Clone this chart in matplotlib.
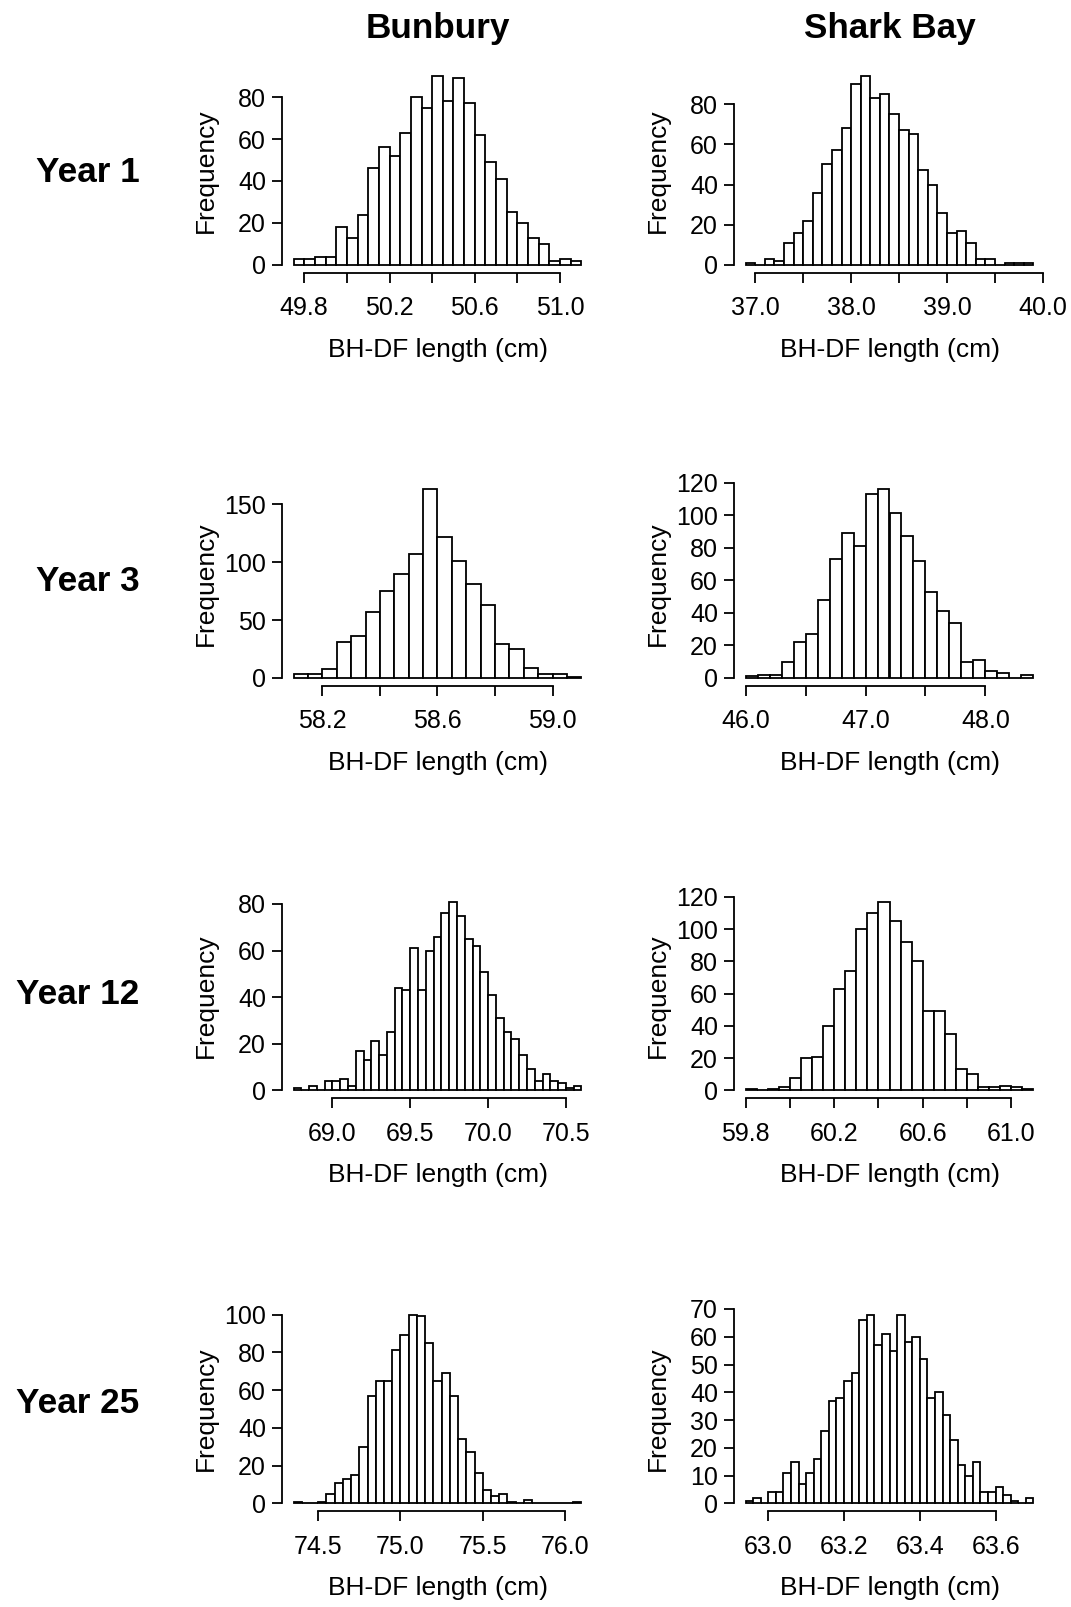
import numpy as np
import matplotlib
matplotlib.use("Agg")
import matplotlib.pyplot as plt

plt.rcParams["font.family"] = ["Liberation Sans", "DejaVu Sans"]

sites = ["Bunbury", "Shark Bay"]
years = ["Year 1", "Year 3", "Year 12", "Year 25"]

# histogram bins (first edge, bin width) and counts
bun1_start, bun1_width = 49.75, 0.05
bun1_counts = [3, 3, 4, 4, 18, 13, 24, 46, 56, 52, 63, 80, 75, 90, 78, 89, 77,
               62, 49, 41, 25, 20, 13, 10, 2, 3, 2]
bun1_xticks = [49.8, 50.0, 50.2, 50.4, 50.6, 50.8, 51.0]
bun1_yticks = [0, 20, 40, 60, 80]

shk1_start, shk1_width = 36.9, 0.1
shk1_counts = [1, 0, 3, 2, 11, 16, 22, 36, 50, 57, 68, 90, 94, 83, 85, 75, 67,
               65, 47, 40, 26, 16, 17, 11, 3, 3, 0, 1, 1, 1]
shk1_xticks = [37.0, 37.5, 38.0, 38.5, 39.0, 39.5, 40.0]
shk1_yticks = [0, 20, 40, 60, 80]

bun3_start, bun3_width = 58.1, 0.05
bun3_counts = [3, 3, 8, 31, 36, 57, 75, 90, 107, 163, 122, 101, 81, 63, 29, 25,
               9, 3, 3, 1]
bun3_xticks = [58.2, 58.4, 58.6, 58.8, 59.0]
bun3_yticks = [0, 50, 100, 150]

shk3_start, shk3_width = 46.0, 0.1
shk3_counts = [1, 2, 2, 10, 22, 27, 48, 73, 89, 81, 113, 116, 101, 87, 72, 53,
               41, 34, 10, 11, 4, 3, 0, 2]
shk3_xticks = [46.0, 46.5, 47.0, 47.5, 48.0]
shk3_yticks = [0, 20, 40, 60, 80, 100, 120]

bun12_start, bun12_width = 68.75, 0.05
bun12_counts = [1, 0, 2, 0, 4, 4, 5, 2, 17, 13, 21, 15, 25, 44, 43, 61, 43, 60,
                66, 76, 81, 75, 65, 62, 51, 41, 31, 25, 22, 15, 9, 4, 7, 4, 3,
                1, 2]
bun12_xticks = [69.0, 69.5, 70.0, 70.5]
bun12_yticks = [0, 20, 40, 60, 80]

shk12_start, shk12_width = 59.8, 0.05
shk12_counts = [1, 0, 1, 2, 8, 20, 21, 40, 63, 74, 100, 110, 117, 105, 92, 80,
                49, 49, 35, 13, 10, 2, 2, 3, 2, 1]
shk12_xticks = [59.8, 60.0, 60.2, 60.4, 60.6, 60.8, 61.0]
shk12_yticks = [0, 20, 40, 60, 80, 100, 120]

bun25_start, bun25_width = 74.35, 0.05
bun25_counts = [1, 0, 0, 1, 5, 11, 13, 15, 30, 57, 65, 65, 81, 89, 100, 99, 85,
                65, 69, 57, 34, 27, 16, 7, 4, 5, 1, 0, 2, 0, 0, 0, 0, 0, 1]
bun25_xticks = [74.5, 75.0, 75.5, 76.0]
bun25_yticks = [0, 20, 40, 60, 80, 100]

shk25_start, shk25_width = 62.94, 0.02
shk25_counts = [1, 2, 0, 4, 4, 11, 15, 7, 11, 16, 26, 37, 38, 44, 47, 66, 68,
                57, 61, 55, 68, 58, 60, 52, 38, 40, 32, 23, 14, 10, 15, 4, 4,
                6, 3, 1, 0, 2]
shk25_xticks = [63.0, 63.2, 63.4, 63.6]
shk25_yticks = [0, 10, 20, 30, 40, 50, 60, 70]

# (start, width, counts, xticks, yticks, label every nth x tick)
rows = [
    [(bun1_start, bun1_width, bun1_counts, bun1_xticks, bun1_yticks, 2),
     (shk1_start, shk1_width, shk1_counts, shk1_xticks, shk1_yticks, 2)],
    [(bun3_start, bun3_width, bun3_counts, bun3_xticks, bun3_yticks, 2),
     (shk3_start, shk3_width, shk3_counts, shk3_xticks, shk3_yticks, 2)],
    [(bun12_start, bun12_width, bun12_counts, bun12_xticks, bun12_yticks, 1),
     (shk12_start, shk12_width, shk12_counts, shk12_xticks, shk12_yticks, 2)],
    [(bun25_start, bun25_width, bun25_counts, bun25_xticks, bun25_yticks, 1),
     (shk25_start, shk25_width, shk25_counts, shk25_xticks, shk25_yticks, 1)],
]

W, H = 1071, 1607
fig = plt.figure(figsize=(W / 100, H / 100), dpi=100)

col_left = [282, 734]
ax_w = 311
row_bottom = [272.5, 685.5, 1098, 1511]
ax_h = 204
lw = 1.3

for i, row in enumerate(rows):
    for j, (start, width, counts, xt, yt, every) in enumerate(row):
        ax = fig.add_axes([col_left[j] / W, 1 - row_bottom[i] / H, ax_w / W, ax_h / H])
        edges = start + width * np.arange(len(counts) + 1)
        ax.bar(edges[:-1], counts, width=width, align="edge", color="white",
               edgecolor="black", linewidth=lw)

        # R style: 4% padding around the data range
        lo, hi = edges[0], edges[-1]
        pad = 0.04 * (hi - lo)
        ax.set_xlim(lo - pad, hi + pad)
        top = max(counts)
        ax.set_ylim(-0.04 * top, 1.04 * top)

        ax.set_xticks(xt)
        ax.set_xticklabels([f"{v:.1f}" if k % every == 0 else "" for k, v in enumerate(xt)])
        ax.set_yticks(yt)
        ax.set_yticklabels([str(v) for v in yt])

        for s in ["top", "right"]:
            ax.spines[s].set_visible(False)
        ax.spines["left"].set_bounds(yt[0], yt[-1])
        ax.spines["bottom"].set_bounds(xt[0], xt[-1])
        for s in ["left", "bottom"]:
            ax.spines[s].set_linewidth(lw)

        ax.tick_params(direction="out", length=7, width=lw, labelsize=18)
        ax.tick_params(axis="x", pad=10)
        ax.tick_params(axis="y", pad=4.5)

        ax.set_ylabel("Frequency", fontsize=19, va="baseline")
        ax.yaxis.set_label_coords(-0.2235, 0.5)
        ax.set_xlabel("BH-DF length (cm)", fontsize=19, va="baseline")
        ax.xaxis.set_label_coords(0.5, -0.414)

# column titles
for j, name in enumerate(sites):
    fig.text((col_left[j] + ax_w / 2) / W, 1 - 38 / H, name, ha="center",
             va="baseline", fontsize=25.3, fontweight="bold")

# row labels
year_baseline = [182, 591, 1004, 1413]
for i, name in enumerate(years):
    fig.text(139.5 / W, 1 - year_baseline[i] / H, name, ha="right",
             va="baseline", fontsize=25.3, fontweight="bold")

fig.savefig("out.png", dpi=100)
